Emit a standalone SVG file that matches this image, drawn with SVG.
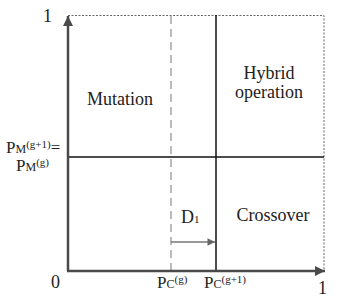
<svg xmlns="http://www.w3.org/2000/svg" width="339" height="303" viewBox="0 0 339 303" font-family="'Liberation Serif','DejaVu Serif',serif">
<style>
text{font-family:'Liberation Serif','DejaVu Serif',serif;fill:#222;}
.lbl{font-size:18px;}
.big{font-size:17px;}
.sm{font-size:11px;}
.axis{stroke:#4a4a4a;stroke-width:2.5;fill:none;}
.div{stroke:#111;stroke-width:1.5;fill:none;}
.dash{stroke:#aaa;stroke-width:1.6;stroke-dasharray:8 5;fill:none;}
.dot{stroke:#666;stroke-width:1;stroke-dasharray:2 1.5;fill:none;}
.shift{stroke:#777;stroke-width:1.5;fill:none;}
</style>
<defs>
<marker id="ah" viewBox="0 0 10 10" refX="10" refY="5" markerWidth="4.5" markerHeight="4" orient="auto" markerUnits="strokeWidth"><path d="M0,0 L10,5 L0,10 z" fill="#4a4a4a"/></marker>
<marker id="ah2" viewBox="0 0 10 10" refX="10" refY="5" markerWidth="6" markerHeight="5" orient="auto" markerUnits="strokeWidth"><path d="M0,0 L10,5 L0,10 z" fill="#666"/></marker>
</defs>
<rect width="339" height="303" fill="#fff"/>
<g id="connectors">
<path class="dot" d="M68,15.5 H324 V270"/>
<path class="dash" d="M171,16 V270"/>
<path class="div" d="M216,15 V270"/>
<path class="div" d="M68,157 H324"/>
<path class="shift" d="M171,242 H215" marker-end="url(#ah2)"/>
<path class="axis" d="M68,271 V16" marker-end="url(#ah)"/>
<path class="axis" d="M67,271 H325" marker-end="url(#ah)"/>
</g>
<g id="mutation"><text class="lbl" x="120" y="105" text-anchor="middle">Mutation</text></g>
<g id="hybrid"><text class="lbl" x="269" y="79" text-anchor="middle">Hybrid</text><text class="lbl" x="269" y="98" text-anchor="middle">operation</text></g>
<g id="crossover"><text class="lbl" x="273" y="221" text-anchor="middle">Crossover</text></g>
<g id="d1"><text class="lbl" x="181" y="223">D<tspan class="sm">1</tspan></text></g>
<g id="labels">
<text class="lbl" x="43" y="22">1</text>
<text class="lbl" x="51" y="288">0</text>
<text class="lbl" x="318" y="294">1</text>
<text class="big" x="6" y="153">P<tspan font-size="12">M</tspan><tspan font-size="11" dy="-5">(g+1)</tspan><tspan dy="5">=</tspan></text>
<text class="big" x="16" y="171">P<tspan font-size="12">M</tspan><tspan font-size="11" dy="-5">(g)</tspan></text>
<text class="big" x="157" y="288">P<tspan font-size="12">C</tspan><tspan font-size="11" dy="-5">(g)</tspan></text>
<text class="big" x="204" y="288">P<tspan font-size="12">C</tspan><tspan font-size="11" dy="-5">(g+1)</tspan></text>
</g>
</svg>
